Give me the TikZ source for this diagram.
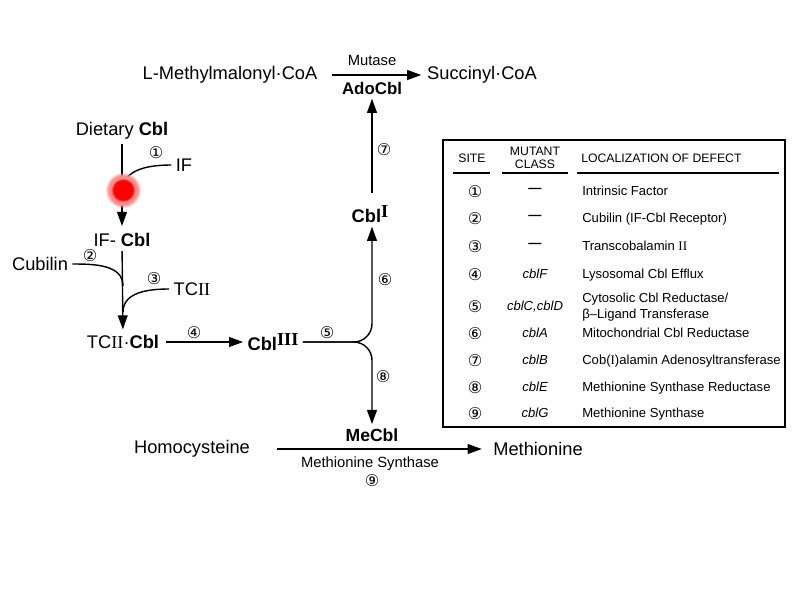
\documentclass[tikz,border=0pt]{standalone}
\usepackage{fontspec}
\setmainfont{Liberation Sans}
\newfontfamily\romfont{Liberation Serif}
\newfontfamily\numfont{DejaVu Sans}
\usetikzlibrary{arrows.meta,fadings}

\newcommand{\cbl}{\textbf{Cbl}}
\newcommand{\rmsup}[1]{\raisebox{0.45ex}{\romfont\bfseries #1}}

\tikzset{
  lbl/.style={font=\fontsize{13}{15}\selectfont, inner sep=3pt},
  sml/.style={font=\fontsize{10.5}{12}\selectfont, inner sep=1pt},
  num/.style={font=\numfont\fontsize{11.5}{12}\selectfont, inner sep=0pt},
  tab/.style={font=\fontsize{9.3}{11}\selectfont, inner sep=0pt, align=left, text depth=0.3ex},
  hdr/.style={font=\fontsize{8.7}{9.5}\selectfont, inner sep=0pt, align=center},
  ln/.style={line width=1pt},
  arr/.style={ln, -{Triangle[length=10pt,width=7pt]}},
}

\begin{document}
\begin{tikzpicture}[x=0.025cm,y=0.025cm]
  \useasboundingbox (0,0) rectangle (800,-600);

  % top reaction
  \node[lbl] (mmca) at (230,-75) {L-Methylmalonyl·CoA};
  \node[lbl] (succ) at (482,-75) {Succinyl·CoA};
  \node[sml] (mutase) at (372,-60) {Mutase};
  \node[lbl, font=\fontsize{12}{14}\selectfont\bfseries] (ado) at (372,-88) {AdoCbl};
  \draw[arr, shorten <=7pt, shorten >=1pt] (mmca) -- (succ);

  % uptake
  \node[lbl] (diet) at (122,-131) {Dietary \cbl};
  \node[lbl] (iff) at (184,-165) {IF};
  \node[lbl] (ifcbl) at (122,-240) {IF- \cbl};
  \node[lbl] (cub) at (40,-264) {Cubilin};
  \node[lbl] (tc) at (192,-289) {TC{\romfont II}};
  \node[lbl] (tccbl) at (123,-342) {TC{\romfont II}·\cbl};
  \coordinate (j1) at (123,-190);
  \coordinate (j2) at (123,-286);
  \coordinate (j3) at (123,-312);

  \draw[arr, shorten >=2pt] (diet) -- (ifcbl);
  \draw[ln] (iff.west) to[out=180,in=90] (j1);
  \draw[arr, shorten >=1pt] (ifcbl) -- (tccbl);
  \draw[ln] (cub.east) to[out=0,in=90] (j2);
  \draw[ln] (tc.west) to[out=180,in=90] (j3);

  % red glow
  \fill[red!45, path fading=circle with fuzzy edge 20 percent] (j1) circle (18);
  \fill[red, path fading=circle with fuzzy edge 20 percent] (j1) circle (12);

  % cobalamin forms
  \node[lbl] (cbliii) at (273,-342) {\cbl\rmsup{III}};
  \node[lbl] (cbli) at (370,-214) {\cbl\rmsup{I}};
  \node[lbl, font=\fontsize{12.5}{14}\selectfont\bfseries] (mecbl) at (372,-435) {MeCbl};
  \coordinate (fork) at (ado.south |- cbliii.east);

  \draw[arr, shorten <=2pt] (tccbl) -- (cbliii);
  \draw[arr, rounded corners=13] (cbliii.east) -- (fork) -- (cbli.south -| fork);
  \draw[arr, rounded corners=13] (cbliii.east) -- (fork) -- (mecbl.north);
  \draw[arr, shorten <=6pt] (ado.south |- cbli.north) -- (ado.south);

  % methionine
  \node[lbl] (hcy) at (192,-449) {Homocysteine};
  \node[lbl] (met) at (538,-449) {Methionine};
  \node[sml] (ms) at (370,-464) {Methionine Synthase};
  \draw[arr, shorten <=16pt, shorten >=5pt] (hcy) -- (met);

  % site numbers
  \node[num] (n1) at (156,-153) {①};
  \node[num] (n2) at (90,-256) {②};
  \node[num] (n3) at (154,-279) {③};
  \node[num] (n4) at (194,-333) {④};
  \node[num] (n5) at (327,-333) {⑤};
  \node[num] (n6) at (385,-280) {⑥};
  \node[num] (n7) at (384,-150) {⑦};
  \node[num] (n8) at (383,-377) {⑧};
  \node[num] (n9) at (372,-481) {⑨};

  % table
  \draw[line width=1pt] (443,-140) rectangle (785,-427);
  \node[hdr] (hsite) at (472,-158) {SITE};
  \node[hdr] (hcls) at (535,-158) {MUTANT\\CLASS};
  \node[hdr, anchor=west] (hloc) at (581,-158) {LOCALIZATION OF DEFECT};
  \draw[line width=1.5pt] (453,-173) -- (490,-173);
  \draw[line width=1.5pt] (502,-173) -- (568,-173);
  \draw[line width=1.5pt] (577,-173) -- (779,-173);

  \foreach \s/\y/\c/\d [count=\i] in {
      ①/192/\textbf{---}/Intrinsic Factor,
      ②/219/\textbf{---}/Cubilin (IF-Cbl Receptor),
      ③/247/\textbf{---}/Transcobalamin {\romfont II},
      ④/275/cblF/Lysosomal Cbl Efflux,
      ⑤/307/{cblC,cblD}/{Cytosolic Cbl Reductase/\\β–Ligand Transferase},
      ⑥/334/cblA/Mitochondrial Cbl Reductase,
      ⑦/361/cblB/Cob({\romfont I})alamin Adenosyltransferase,
      ⑧/388/cblE/Methionine Synthase Reductase,
      ⑨/414/cblG/Methionine Synthase}{
    \node[num] (site\i) at (475,-\y) {\s};
    \node[tab, font=\fontsize{9.3}{11}\selectfont\itshape] (cls\i) at (535,-\y) {\c};
    \node[tab, anchor=west] (loc\i) at (582,-\y) {\d};
  }
\end{tikzpicture}
\end{document}
